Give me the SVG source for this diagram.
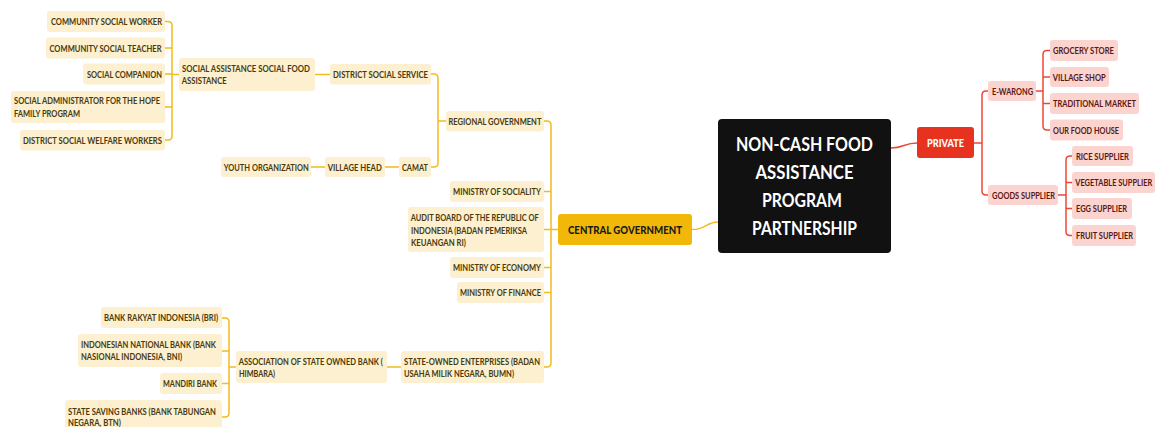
<svg xmlns="http://www.w3.org/2000/svg" width="1155" height="427" viewBox="0 0 1155 427">
<style>
.y rect{fill:#FCF0D0}
.r rect{fill:#FBD4D0}
.y text,.r text{font-family:Lato,"Liberation Sans",sans-serif;font-weight:700;font-size:10px;transform-box:fill-box;transform-origin:0 0;transform:scaleX(0.78)}
.y text{fill:#4A3A0C}
.r text{fill:#5A1812}
.cy{fill:none;stroke:#F4BA1E;stroke-width:1.5;stroke-linecap:round;stroke-linejoin:round}
.cr{fill:none;stroke:#EE4636;stroke-width:1.5;stroke-linecap:round;stroke-linejoin:round}
</style>
<rect width="1155" height="427" fill="#FFFFFF"/>
<g id="connectors">
<path class="cy" d="M692,229.5 C706,229.5 706,222 718,222"/>
<path class="cr" d="M891,148 C904,148 904,143 917,143"/>
<path class="cy" d="M558,229.5 H551 M544,121 H547 Q551,121 551,125 V363 Q551,367 547,367 H544 M544,191.5 H551 M544,229.5 H551 M544,267.5 H551 M544,292.5 H551"/>
<path class="cy" d="M446,121 H438 M431,74 H434 Q438,74 438,78 V163 Q438,167 434,167 H431"/>
<path class="cy" d="M315,74.5 H330"/>
<path class="cy" d="M385,167 H399 M311,167 H325"/>
<path class="cy" d="M179,74.5 H172 M165,21.5 H168 Q172,21.5 172,25.5 V136 Q172,140 168,140 H165 M165,48 H172 M165,74 H172 M165,107 H172"/>
<path class="cy" d="M387,367 H401"/>
<path class="cy" d="M236,367 H229 M222,318 H225 Q229,318 229,322 V413 Q229,417 225,417 H222 M222,351 H229 M222,383.5 H229"/>
<path class="cr" d="M974,143 H982 M988,91 H986 Q982,91 982,95 V191 Q982,195 986,195 H988"/>
<path class="cr" d="M1036,91 H1043 M1050,50.5 H1047 Q1043,50.5 1043,54.5 V126 Q1043,130 1047,130 H1050 M1050,77 H1043 M1050,103.5 H1043"/>
<path class="cr" d="M1058,195 H1066 M1072,156 H1070 Q1066,156 1066,160 V231.5 Q1066,235.5 1070,235.5 H1072 M1072,182.5 H1066 M1072,208.5 H1066"/>
</g>
<g id="root">
<rect x="718" y="119" width="173" height="134" rx="4" fill="#111111"/>
<g fill="#FFFFFF" font-family="Lato,'Liberation Sans',sans-serif" font-weight="700" font-size="19" text-anchor="middle">
<text x="804.5" y="150.5" textLength="137" lengthAdjust="spacingAndGlyphs">NON-CASH FOOD</text>
<text x="804.5" y="178.5" textLength="98" lengthAdjust="spacingAndGlyphs">ASSISTANCE</text>
<text x="802" y="206.5" textLength="80" lengthAdjust="spacingAndGlyphs">PROGRAM</text>
<text x="804.5" y="234.5" textLength="105" lengthAdjust="spacingAndGlyphs">PARTNERSHIP</text>
</g>
</g>
<g id="central-government">
<rect x="558" y="214" width="134" height="31" rx="3" fill="#F1B80A"/>
<text x="568" y="234" textLength="114" lengthAdjust="spacingAndGlyphs" fill="#1A1A1A" font-family="Lato,'Liberation Sans',sans-serif" font-weight="900" font-size="11.5">CENTRAL GOVERNMENT</text>
</g>
<g id="private">
<rect x="917" y="127" width="57" height="31" rx="3" fill="#E83220"/>
<text x="927" y="147" textLength="37" lengthAdjust="spacingAndGlyphs" fill="#FFFFFF" font-family="Lato,'Liberation Sans',sans-serif" font-weight="900" font-size="11">PRIVATE</text>
</g>
<g id="community-social-worker" class="y"><rect x="47" y="11" width="118" height="21" rx="3"/><text x="51" y="25.1" textLength="142.3" lengthAdjust="spacingAndGlyphs">COMMUNITY SOCIAL WORKER</text></g>
<g id="community-social-teacher" class="y"><rect x="46" y="37.5" width="119" height="21" rx="3"/><text x="49.5" y="51.6" textLength="143.6" lengthAdjust="spacingAndGlyphs">COMMUNITY SOCIAL TEACHER</text></g>
<g id="social-companion" class="y"><rect x="83" y="63.5" width="82" height="21" rx="3"/><text x="87" y="77.6" textLength="96.2" lengthAdjust="spacingAndGlyphs">SOCIAL COMPANION</text></g>
<g id="social-administrator" class="y"><rect x="11" y="91" width="154" height="32" rx="3"/><text x="14" y="103.6" textLength="187.2" lengthAdjust="spacingAndGlyphs">SOCIAL ADMINISTRATOR FOR THE HOPE</text><text x="14" y="116.6" textLength="84.6" lengthAdjust="spacingAndGlyphs">FAMILY PROGRAM</text></g>
<g id="district-social-welfare-workers" class="y"><rect x="20" y="130" width="145" height="20.5" rx="3"/><text x="23" y="143.8" textLength="178.2" lengthAdjust="spacingAndGlyphs">DISTRICT SOCIAL WELFARE WORKERS</text></g>
<g id="social-assistance" class="y"><rect x="179" y="58" width="136" height="33" rx="3"/><text x="182" y="71.6" textLength="164.1" lengthAdjust="spacingAndGlyphs">SOCIAL ASSISTANCE SOCIAL FOOD</text><text x="182" y="83.6" textLength="57.7" lengthAdjust="spacingAndGlyphs">ASSISTANCE</text></g>
<g id="district-social-service" class="y"><rect x="330" y="64" width="101" height="20.5" rx="3"/><text x="333" y="77.8" textLength="121.8" lengthAdjust="spacingAndGlyphs">DISTRICT SOCIAL SERVICE</text></g>
<g id="regional-government" class="y"><rect x="446" y="111" width="98" height="20.5" rx="3"/><text x="448.5" y="124.8" textLength="119.2" lengthAdjust="spacingAndGlyphs">REGIONAL GOVERNMENT</text></g>
<g id="camat" class="y"><rect x="399" y="157" width="32" height="20" rx="3"/><text x="402" y="170.6" textLength="33.3" lengthAdjust="spacingAndGlyphs">CAMAT</text></g>
<g id="village-head" class="y"><rect x="325" y="157" width="60" height="20" rx="3"/><text x="328" y="170.6" textLength="69.2" lengthAdjust="spacingAndGlyphs">VILLAGE HEAD</text></g>
<g id="youth-organization" class="y"><rect x="221" y="157" width="90" height="20" rx="3"/><text x="224" y="170.6" textLength="109" lengthAdjust="spacingAndGlyphs">YOUTH ORGANIZATION</text></g>
<g id="ministry-of-sociality" class="y"><rect x="450" y="181" width="94" height="21" rx="3"/><text x="453" y="195.1" textLength="112.8" lengthAdjust="spacingAndGlyphs">MINISTRY OF SOCIALITY</text></g>
<g id="audit-board" class="y"><rect x="408" y="207" width="136" height="45" rx="3"/><text x="411" y="221.1" textLength="164.1" lengthAdjust="spacingAndGlyphs">AUDIT BOARD OF THE REPUBLIC OF</text><text x="411" y="233.6" textLength="148.7" lengthAdjust="spacingAndGlyphs">INDONESIA (BADAN PEMERIKSA</text><text x="411" y="246.1" textLength="70.5" lengthAdjust="spacingAndGlyphs">KEUANGAN RI)</text></g>
<g id="ministry-of-economy" class="y"><rect x="450" y="257" width="94" height="21" rx="3"/><text x="453" y="271.1" textLength="112.8" lengthAdjust="spacingAndGlyphs">MINISTRY OF ECONOMY</text></g>
<g id="ministry-of-finance" class="y"><rect x="457" y="282" width="87" height="21" rx="3"/><text x="460" y="296.1" textLength="103.8" lengthAdjust="spacingAndGlyphs">MINISTRY OF FINANCE</text></g>
<g id="state-owned-enterprises" class="y"><rect x="401" y="351" width="143" height="32" rx="3"/><text x="404" y="364.6" textLength="174.4" lengthAdjust="spacingAndGlyphs">STATE-OWNED ENTERPRISES (BADAN</text><text x="404" y="376.6" textLength="141" lengthAdjust="spacingAndGlyphs">USAHA MILIK NEGARA, BUMN)</text></g>
<g id="association-of-state-owned-bank" class="y"><rect x="236" y="351" width="151" height="32" rx="3"/><text x="239" y="364.6" textLength="184.6" lengthAdjust="spacingAndGlyphs">ASSOCIATION OF STATE OWNED BANK (</text><text x="239" y="376.6" textLength="46.2" lengthAdjust="spacingAndGlyphs">HIMBARA)</text></g>
<g id="bri" class="y"><rect x="101" y="307" width="121" height="21" rx="3"/><text x="104" y="321.1" textLength="146.2" lengthAdjust="spacingAndGlyphs">BANK RAKYAT INDONESIA (BRI)</text></g>
<g id="bni" class="y"><rect x="78" y="334" width="144" height="33" rx="3"/><text x="81" y="348.1" textLength="173.1" lengthAdjust="spacingAndGlyphs">INDONESIAN NATIONAL BANK (BANK</text><text x="81" y="360.1" textLength="129.5" lengthAdjust="spacingAndGlyphs">NASIONAL INDONESIA, BNI)</text></g>
<g id="mandiri-bank" class="y"><rect x="160" y="373" width="62" height="21" rx="3"/><text x="163" y="387.1" textLength="69.2" lengthAdjust="spacingAndGlyphs">MANDIRI BANK</text></g>
<g id="btn" class="y"><rect x="65" y="400" width="157" height="34" rx="3"/><text x="68" y="414.6" textLength="189.7" lengthAdjust="spacingAndGlyphs">STATE SAVING BANKS (BANK TABUNGAN</text><text x="68" y="426.4" textLength="67.9" lengthAdjust="spacingAndGlyphs">NEGARA, BTN)</text></g>
<g id="e-warong" class="r"><rect x="988" y="81" width="48" height="20" rx="3"/><text x="992" y="94.6" textLength="52.6" lengthAdjust="spacingAndGlyphs">E-WARONG</text></g>
<g id="goods-supplier" class="r"><rect x="988" y="185" width="70" height="20" rx="3"/><text x="992" y="198.6" textLength="80.8" lengthAdjust="spacingAndGlyphs">GOODS SUPPLIER</text></g>
<g id="grocery-store" class="r"><rect x="1050" y="40" width="68" height="21" rx="3"/><text x="1053" y="54.1" textLength="78.2" lengthAdjust="spacingAndGlyphs">GROCERY STORE</text></g>
<g id="village-shop" class="r"><rect x="1050" y="67" width="59" height="20" rx="3"/><text x="1053" y="80.6" textLength="67.9" lengthAdjust="spacingAndGlyphs">VILLAGE SHOP</text></g>
<g id="traditional-market" class="r"><rect x="1050" y="93" width="89" height="21" rx="3"/><text x="1053" y="107.1" textLength="106.4" lengthAdjust="spacingAndGlyphs">TRADITIONAL MARKET</text></g>
<g id="our-food-house" class="r"><rect x="1050" y="119.5" width="73" height="21" rx="3"/><text x="1053" y="133.6" textLength="84.6" lengthAdjust="spacingAndGlyphs">OUR FOOD HOUSE</text></g>
<g id="rice-supplier" class="r"><rect x="1072" y="146" width="61" height="20" rx="3"/><text x="1076" y="159.6" textLength="67.9" lengthAdjust="spacingAndGlyphs">RICE SUPPLIER</text></g>
<g id="vegetable-supplier" class="r"><rect x="1072" y="172" width="83" height="21" rx="3"/><text x="1075.5" y="186.1" textLength="98.7" lengthAdjust="spacingAndGlyphs">VEGETABLE SUPPLIER</text></g>
<g id="egg-supplier" class="r"><rect x="1072" y="198" width="60" height="21" rx="3"/><text x="1076" y="212.1" textLength="65.4" lengthAdjust="spacingAndGlyphs">EGG SUPPLIER</text></g>
<g id="fruit-supplier" class="r"><rect x="1072" y="225" width="64" height="21" rx="3"/><text x="1076" y="239.1" textLength="73.1" lengthAdjust="spacingAndGlyphs">FRUIT SUPPLIER</text></g>
</svg>
